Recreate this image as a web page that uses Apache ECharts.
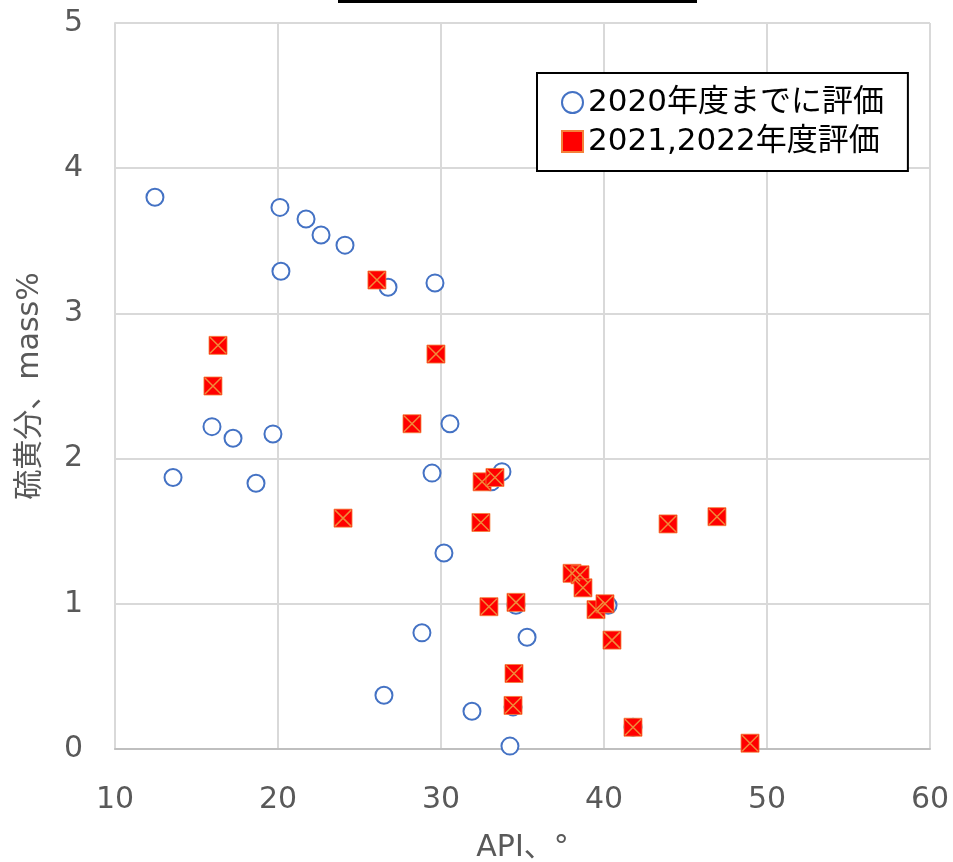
<!DOCTYPE html>
<html>
<head>
<meta charset="utf-8">
<script src="https://cdn.jsdelivr.net/npm/echarts@6/dist/echarts.min.js"></script>
<style>
html,body{margin:0;padding:0;background:#fff;}
#chart{width:953px;height:862px;}
</style>
</head>
<body>
<div id="chart"></div>
<script>
// Data
var seriesNames = ['2020年度までに評価', '2021,2022年度評価'];
var xAxisName = 'API、°';
var yAxisName = '硫黄分、mass%';
var xTicks = [10, 20, 30, 40, 50, 60];
var yTicks = [0, 1, 2, 3, 4, 5];

var before2020 = [
  [12.45, 3.80], [13.56, 1.87], [15.95, 2.22], [17.24, 2.14], [18.65, 1.83],
  [19.69, 2.17], [20.12, 3.73], [20.18, 3.29], [21.72, 3.65], [22.64, 3.54],
  [24.11, 3.47], [26.75, 3.18], [29.63, 3.21], [29.45, 1.90], [30.55, 2.24],
  [30.18, 1.35], [28.83, 0.80], [26.50, 0.37], [31.90, 0.26], [34.23, 0.02],
  [33.74, 1.91], [33.10, 1.84], [35.28, 0.77], [34.60, 0.99], [34.42, 0.29],
  [40.25, 0.99], [41.78, 0.15]
];

var eval2021_2022 = [
  [26.07, 3.23], [16.32, 2.78], [16.01, 2.50], [29.69, 2.72], [28.22, 2.24],
  [23.99, 1.59], [32.45, 1.56], [32.52, 1.84], [33.31, 1.87], [32.94, 0.98],
  [34.60, 1.01], [34.48, 0.52], [34.42, 0.30], [38.04, 1.21], [38.53, 1.20],
  [38.71, 1.11], [39.51, 0.96], [40.06, 1.00], [40.49, 0.75], [41.78, 0.15],
  [48.96, 0.04], [43.93, 1.55], [46.93, 1.60]
];

var chart = echarts.init(document.getElementById('chart'), null, {renderer: 'canvas'});
var fontFam = 'Verdana, "DejaVu Sans", "Noto Sans CJK JP", sans-serif';

var option = {
  animation: false,
  backgroundColor: '#ffffff',
  grid: {left: 115, right: 23, top: 23, bottom: 113, containLabel: false, outerBoundsMode: 'none'},
  xAxis: {
    type: 'value',
    min: xTicks[0], max: xTicks[xTicks.length - 1], interval: 10,
    name: xAxisName, nameLocation: 'middle', nameGap: 84,
    nameTextStyle: {fontSize: 30, color: '#595959', fontFamily: fontFam},
    axisLine: {show: true, lineStyle: {color: '#BFBFBF', width: 2}},
    axisTick: {show: false},
    axisLabel: {fontSize: 30, color: '#595959', margin: 36, fontFamily: fontFam},
    splitLine: {show: true, lineStyle: {color: '#D9D9D9', width: 2}}
  },
  yAxis: {
    type: 'value',
    min: yTicks[0], max: yTicks[yTicks.length - 1], interval: 1,
    name: yAxisName, nameLocation: 'middle', nameGap: 70, nameRotate: 90,
    nameTextStyle: {fontSize: 30, color: '#595959', fontFamily: fontFam},
    axisLine: {show: true, lineStyle: {color: '#D9D9D9', width: 2}},
    axisTick: {show: false},
    axisLabel: {fontSize: 30, color: '#595959', margin: 32, fontFamily: fontFam},
    splitLine: {show: true, lineStyle: {color: '#D9D9D9', width: 2}}
  },
  legend: {
    data: seriesNames,
    orient: 'vertical',
    left: 537, top: 73,
    padding: [14, 24, 14, 24],
    itemGap: 8,
    itemWidth: 21, itemHeight: 21,
    borderColor: '#000', borderWidth: 2,
    backgroundColor: '#fff',
    textStyle: {fontSize: 31, color: '#000', fontFamily: fontFam}
  },
  series: [
    {
      name: seriesNames[0],
      type: 'scatter',
      symbol: 'circle',
      symbolSize: 17,
      data: before2020,
      itemStyle: {color: '#ffffff', borderColor: '#4472C4', borderWidth: 2, opacity: 1},
      z: 2
    },
    {
      name: seriesNames[1],
      type: 'scatter',
      symbol: 'rect',
      symbolSize: 18,
      data: eval2021_2022,
      itemStyle: {color: '#FF0000', borderColor: '#F4813A', borderWidth: 0.8, opacity: 1},
      z: 3
    },
    {
      name: 'xmark',
      type: 'scatter',
      symbol: 'path://M0,0L10,10M10,0L0,10',
      symbolSize: 16,
      data: eval2021_2022,
      silent: true,
      itemStyle: {color: 'transparent', borderColor: '#F08A3A', borderWidth: 1.5, opacity: 1},
      z: 4
    }
  ],
  graphic: [
    {type: 'rect', shape: {x: 338, y: 0, width: 359, height: 3}, style: {fill: '#000'}}
  ]
};
chart.setOption(option);
</script>
</body>
</html>
